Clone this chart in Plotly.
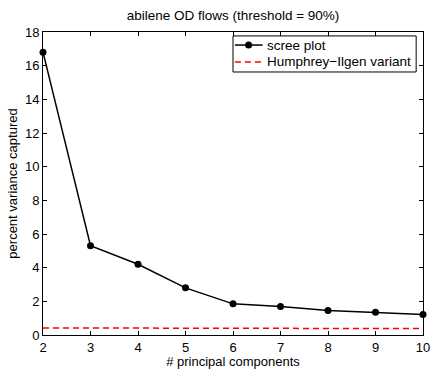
import plotly.graph_objects as go

components = [2, 3, 4, 5, 6, 7, 8, 9, 10]
scree = [16.8, 5.3, 4.2, 2.8, 1.85, 1.7, 1.45, 1.35, 1.22]
humphrey = [0.42, 0.42, 0.41, 0.41, 0.40, 0.40, 0.39, 0.39, 0.38]
series_names = ["scree plot", "Humphrey\u2212Ilgen variant"]

fig = go.Figure()
fig.add_trace(go.Scatter(x=components, y=scree, mode="lines+markers", name=series_names[0],
                         line=dict(color="black", width=1.5),
                         marker=dict(color="black", size=7), cliponaxis=False))
fig.add_trace(go.Scatter(x=components, y=humphrey, mode="lines", name=series_names[1],
                         line=dict(color="red", width=1.5, dash="6px,4px")))

font = "Liberation Sans, Arial, Helvetica, sans-serif"

# manual MATLAB-style legend box
lx0, lx1, ly0, ly1 = 0.500, 0.982, 0.868, 0.987
rows = [0.957, 0.901]
shapes = [dict(type="rect", xref="paper", yref="paper", x0=lx0, x1=lx1, y0=ly0, y1=ly1,
               line=dict(color="black", width=1), fillcolor="white", layer="above")]
shapes.append(dict(type="line", xref="paper", yref="paper", x0=0.505, x1=0.578, y0=rows[0], y1=rows[0],
                   line=dict(color="black", width=1.5), layer="above"))
shapes.append(dict(type="circle", xref="paper", yref="paper", xsizemode="pixel", ysizemode="pixel",
                   xanchor=0.541, yanchor=rows[0], x0=-3.5, x1=3.5, y0=-3.5, y1=3.5,
                   fillcolor="black", line=dict(color="black", width=0), layer="above"))
shapes.append(dict(type="line", xref="paper", yref="paper", x0=0.505, x1=0.578, y0=rows[1], y1=rows[1],
                   line=dict(color="red", width=1.5, dash="6px,4px"), layer="above"))
annotations = [dict(text=series_names[i], xref="paper", yref="paper", x=0.583, y=rows[i],
                    xanchor="left", yanchor="middle", showarrow=False,
                    font=dict(size=13.5, color="black")) for i in range(2)]

fig.update_layout(
    width=435, height=369,
    margin=dict(l=43, r=5, t=32, b=33),
    paper_bgcolor="white", plot_bgcolor="white",
    font=dict(family=font, size=13, color="black"),
    title=dict(text="abilene OD flows (threshold = 90%)", x=0.5, xref="paper", xanchor="center",
               y=1 - 15/369, yanchor="middle", font=dict(size=13.5)),
    showlegend=False,
    shapes=shapes,
    annotations=annotations,
)
fig.update_xaxes(range=[2, 10], tickvals=components, showline=True, linecolor="black",
                 linewidth=1, mirror="ticks", ticks="inside", ticklen=4, tickcolor="black",
                 showgrid=False, zeroline=False, ticklabeloverflow="allow",
                 title=dict(text="# principal components", font=dict(size=13), standoff=0),
                 tickfont=dict(size=13))
fig.update_yaxes(range=[0, 18], tickvals=list(range(0, 19, 2)), showline=True, linecolor="black",
                 linewidth=1, mirror="ticks", ticks="inside", ticklen=4, tickcolor="black",
                 showgrid=False, zeroline=False,
                 title=dict(text="percent variance captured", font=dict(size=13), standoff=4),
                 tickfont=dict(size=13))

fig.write_html("out.html")
